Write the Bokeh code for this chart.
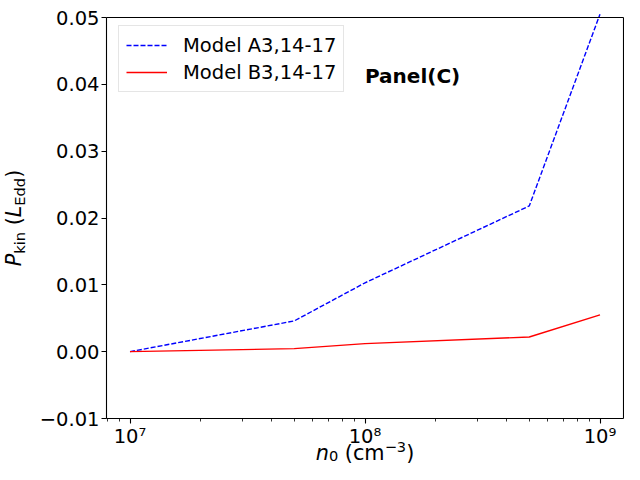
import math
from bokeh.plotting import figure
from bokeh.models import (Range1d, FixedTicker, CustomJSTickFormatter, Label,
                          Legend, LegendItem, LogAxis, LinearAxis)
from bokeh.embed import file_html
from bokeh.resources import INLINE

# ---- data ----
n0 = [1e7, 5e7, 1e8, 5e8, 1e9]
pkin_A3 = [0.0, 0.0046, 0.0103, 0.0218, 0.0505]
pkin_B3 = [0.0, 0.00045, 0.0012, 0.0022, 0.0055]
label_A3 = "Model A3,14-17"
label_B3 = "Model B3,14-17"
panel_text = "Panel(C)"
y_ticks = [-0.01, 0.0, 0.01, 0.02, 0.03, 0.04, 0.05]
x_major = [1e7, 1e8, 1e9]
XLIM_LOG = (6.9, 9.1)      # axis limits (log10 n0)
YLIM = (-0.01, 0.05)

# ---- layout (pixels) ----
W, H = 624, 464
BOX_L, BOX_R, BOX_T, BOX_B = 106, 623, 17, 418
FONT = "DejaVu Sans"
TICK_FS = "19.5px"
K = 0.33   # baseline correction (fraction of font size)

pxdec = (BOX_R - BOX_L) / (XLIM_LOG[1] - XLIM_LOG[0])
x_start = 10 ** (XLIM_LOG[0] - BOX_L / pxdec)
x_end = 10 ** (XLIM_LOG[1] + (W - BOX_R) / pxdec)
pxy = (BOX_B - BOX_T) / (YLIM[1] - YLIM[0])
y_end = YLIM[1] + BOX_T / pxy
y_start = YLIM[0] - (H - BOX_B) / pxy
xlo, xhi = 10 ** XLIM_LOG[0], 10 ** XLIM_LOG[1]

p = figure(width=W, height=H, x_axis_type="log",
           x_axis_location=None, y_axis_location=None,
           x_range=Range1d(x_start, x_end), y_range=Range1d(y_start, y_end),
           output_backend="svg", toolbar_location=None, title=None,
           min_border=0)
p.xgrid.visible = False
p.ygrid.visible = False
p.outline_line_color = None
p.background_fill_color = "white"
p.border_fill_color = "white"

minor = [m * 10 ** e for e in (6, 7, 8) for m in range(2, 10)
         if xlo <= m * 10 ** e <= xhi]

xfmt = CustomJSTickFormatter(code="""
const sup = {"0":"\u2070","1":"\u00b9","2":"\u00b2","3":"\u00b3","4":"\u2074",
             "5":"\u2075","6":"\u2076","7":"\u2077","8":"\u2078","9":"\u2079"};
const e = String(Math.round(Math.log10(tick)));
let s = "";
for (const c of e) s += sup[c];
return "10" + s;
""")
yfmt = CustomJSTickFormatter(code="""
if (Math.abs(tick) < 1e-12) return "0.00";
return tick.toFixed(2).replace("-", "\u2212");
""")

xax = LogAxis(fixed_location=YLIM[0], bounds=(xlo, xhi),
              ticker=FixedTicker(ticks=x_major, minor_ticks=minor), formatter=xfmt)
yax = LinearAxis(fixed_location=xlo, bounds=YLIM,
                 ticker=FixedTicker(ticks=y_ticks, minor_ticks=[]), formatter=yfmt)
tax = LogAxis(fixed_location=YLIM[1], bounds=(xlo, xhi),
              ticker=FixedTicker(ticks=[], minor_ticks=[]),
              major_label_text_font_size="0px")
rax = LinearAxis(fixed_location=xhi, bounds=YLIM,
                 ticker=FixedTicker(ticks=[], minor_ticks=[]),
                 major_label_text_font_size="0px")

for ax in (xax, yax, tax, rax):
    ax.major_label_text_font = FONT
    ax.major_label_text_color = "black"
    ax.axis_line_color = "black"
    ax.axis_line_width = 1.1
    ax.major_tick_line_color = "black"
    ax.major_tick_line_width = 1.1
    ax.major_tick_out = 5
    ax.major_tick_in = 0
    ax.minor_tick_line_color = "black"
    ax.minor_tick_line_width = 0.8
    ax.minor_tick_out = 3
    ax.minor_tick_in = 0
for ax in (xax, yax):
    ax.major_label_text_font_size = TICK_FS
xax.major_label_standoff = 1
yax.major_label_standoff = 2

p.add_layout(xax, "below")
p.add_layout(yax, "left")
p.add_layout(tax, "above")
p.add_layout(rax, "right")

rA = p.line(n0, pkin_A3, line_color="#0000ff", line_width=1.4, line_dash="5 2")
rB = p.line(n0, pkin_B3, line_color="#ff0000", line_width=1.4)

LEG_L, LEG_T, LEG_H = 118, 27, 65
legend = Legend(items=[LegendItem(label=label_A3, renderers=[rA]),
                       LegendItem(label=label_B3, renderers=[rB])],
                location=(LEG_L, H - LEG_T - LEG_H), padding=7, spacing=3,
                glyph_width=41, glyph_height=24, label_standoff=16,
                label_text_font=FONT, label_text_font_size=TICK_FS,
                label_text_color="black",
                border_line_color="#cccccc", border_line_width=1,
                background_fill_color="white", background_fill_alpha=0.8)
p.add_layout(legend)

PANEL_FS = 20
p.add_layout(Label(x=x_major[1], y=0.04, y_offset=K * PANEL_FS + 2, text=panel_text,
                   text_font=FONT, text_font_size=f"{PANEL_FS}px",
                   text_font_style="bold", text_color="black",
                   text_align="left", text_baseline="alphabetic"))

# ---- composed axis labels (canvas pixels) ----
MAIN = 20.8
SUB = 14.6

def piece(x, y, text, size, style="normal", angle=0.0):
    if angle:
        x -= K * size
    else:
        y -= K * size
    p.add_layout(Label(x=x, y=y, x_units="canvas", y_units="canvas", text=text,
                       text_font=FONT, text_font_size=f"{size}px",
                       text_font_style=style, angle=angle, text_color="black",
                       text_align="left", text_baseline="alphabetic"))

# y label: P_kin (L_Edd), rotated, reading upward, centred on the box
A = math.pi / 2
widths_y = [0.603 * MAIN, 1.491 * SUB, 0.318 * MAIN, 0.39 * MAIN,
            0.557 * MAIN, 1.902 * SUB, 0.39 * MAIN]
yy = (BOX_T + BOX_B) / 2 + sum(widths_y) / 2
bx, sbx = 20, 24
piece(bx, yy, "P", MAIN, "italic", A); yy -= widths_y[0]
piece(sbx, yy, "kin", SUB, "normal", A); yy -= widths_y[1] + widths_y[2]
piece(bx, yy, "(", MAIN, "normal", A); yy -= widths_y[3]
piece(bx, yy, "L", MAIN, "italic", A); yy -= widths_y[4]
piece(sbx, yy, "Edd", SUB, "normal", A); yy -= widths_y[5]
piece(bx, yy, ")", MAIN, "normal", A)

# x label: n_0 (cm^-3), centred on the box
widths_x = [0.634 * MAIN, 0.636 * SUB, 0.318 * MAIN, 1.914 * MAIN,
            1.474 * SUB, 0.39 * MAIN]
xx = (BOX_L + BOX_R) / 2 - sum(widths_x) / 2
base = 459
piece(xx, base, "n", MAIN, "italic"); xx += widths_x[0]
piece(xx, base + 1, "0", SUB); xx += widths_x[1] + widths_x[2]
piece(xx, base, "(cm", MAIN); xx += widths_x[3]
piece(xx, base - 8, "\u22123", SUB); xx += widths_x[4]
piece(xx, base, ")", MAIN)

open("out.html", "w").write(file_html(p, INLINE))
